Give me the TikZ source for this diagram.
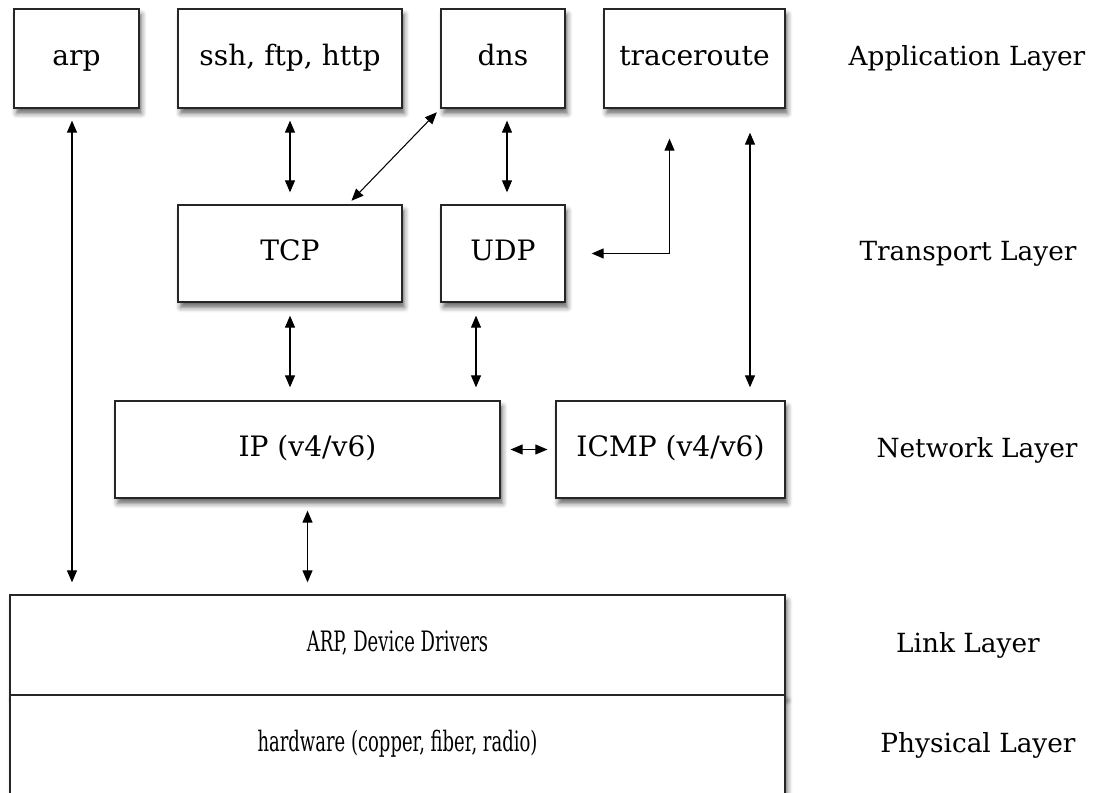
\documentclass[tikz,border=0pt]{standalone}
\usepackage{fontspec}
\setmainfont{DejaVu Serif}
\newfontfamily\narrowfont[FakeStretch=0.64]{DejaVu Serif}
\usetikzlibrary{arrows.meta, shadows.blur, positioning}

\begin{document}
\begin{tikzpicture}[
          x=0.02cm, y=-0.02cm,
          blk/.style={rectangle, draw=black!85, fill=white, line width=0.75pt,
                      minimum height=1.98cm, font=\fontsize{16}{18}\selectfont,
                      blur shadow={shadow xshift=0.5mm, shadow yshift=-1.1mm,
                                   shadow blur radius=1mm, shadow opacity=60},
                      text height=2.1ex, text depth=0.6ex,
                      text centered, inner sep=0pt},
          arr/.style={{Triangle[length=2.4mm,width=2mm]}-{Triangle[length=2.4mm,width=2mm]},
                      line width=0.6pt},
          lyr/.style={font=\fontsize{15}{18}\selectfont},
        ]
          \useasboundingbox (0,0) rectangle (1095,793);
          % application layer
          \node[blk, minimum width=2.5cm] (arp) at (76.5,58.5) {arp};
          \node[blk, minimum width=4.48cm] (ssh) at (290,58.5) {ssh, ftp, http};
          \node[blk, minimum width=2.48cm] (dns) at (503,58.5) {dns};
          \node[blk, minimum width=3.62cm] (tr) at (694.5,58.5) {traceroute};
          % transport layer
          \node[blk, minimum width=4.48cm, minimum height=1.94cm] (tcp) at (290,253.5) {TCP};
          \node[blk, minimum width=2.48cm, minimum height=1.94cm] (udp) at (503,253.5) {UDP};
          % network layer
          \node[blk, minimum width=7.7cm, minimum height=1.94cm] (ip) at (307.5,449.5) {IP (v4/v6)};
          \node[blk, minimum width=4.58cm, minimum height=1.94cm] (icmp) at (670.5,449.5) {ICMP (v4/v6)};
          % link + physical
          \node[blk, minimum width=15.5cm, minimum height=2cm,
                font=\narrowfont\fontsize{16}{18}\selectfont] (link) at (397.5,645) {ARP, Device Drivers};
          \node[blk, minimum width=15.5cm, minimum height=2cm,
                font=\narrowfont\fontsize{16}{18}\selectfont] (phy) at (397.5,745) {hardware (copper, fiber, radio)};
          % layer names
          \node[lyr] (lapp) at (967,58) {Application Layer};
          \node[lyr] (ltra) at (968,254) {Transport Layer};
          \node[lyr] (lnet) at (977,450) {Network Layer};
          \node[lyr] (llnk) at (968,645) {Link Layer};
          \node[lyr] (lphy) at (978,745) {Physical Layer};
          % connectors
          \draw[arr, shorten <=0.24cm, shorten >=0.24cm] ([xshift=-0.09cm]arp.south)
                -- ([xshift=-0.09cm]arp.south |- link.north);
          \draw[arr, shorten <=0.24cm, shorten >=0.24cm] (ssh.south) -- (tcp.north);
          \draw[arr, shorten <=0.1cm, shorten >=0.1cm] ([xshift=1.16cm]tcp.north) -- (dns.south west);
          \draw[arr, shorten <=0.24cm, shorten >=0.24cm] ([xshift=0.08cm]dns.south) -- ([xshift=0.08cm]udp.north);
          \draw[arr, shorten <=0.6cm, shorten >=0.52cm] ([xshift=-0.5cm]tr.south) |- (udp.east);
          \draw[arr, shorten <=0.48cm, shorten >=0.26cm] ([xshift=1.11cm]tr.south)
                -- ([xshift=1.11cm]tr.south |- icmp.north);
          \draw[arr, shorten <=0.26cm, shorten >=0.26cm] (tcp.south) -- (tcp.south |- ip.north);
          \draw[arr, shorten <=0.26cm, shorten >=0.26cm] ([xshift=-0.54cm]udp.south)
                -- ([xshift=-0.54cm]udp.south |- ip.north);
          \draw[arr, shorten <=0.2cm, shorten >=0.16cm] (ip.east) -- (icmp.west);
          \draw[arr, shorten <=0.24cm, shorten >=0.24cm] (ip.south) -- (ip.south |- link.north);
        \end{tikzpicture}
\end{document}
